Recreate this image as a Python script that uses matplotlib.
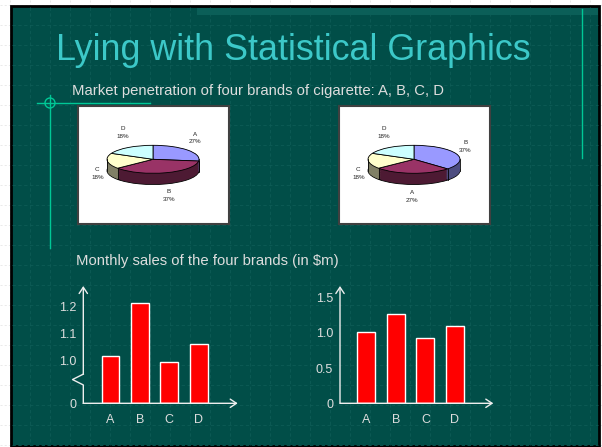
import numpy as np
import matplotlib.pyplot as plt
from matplotlib.patches import Rectangle, Circle

# ---- data ----
brands = ['A', 'B', 'C', 'D']
share = [27, 37, 18, 18]                      # market penetration (%)
pie_order_left = ['A', 'B', 'C', 'D']
pie_order_right = ['B', 'A', 'C', 'D']
sales_cut = [1.017, 1.214, 0.995, 1.062]      # left chart ($m), axis does not start at zero
sales_full = [1.01, 1.27, 0.92, 1.10]         # right chart ($m)
cut_base = 0.843                              # value sitting on the "0" of the left chart
cut_ticks = [cut_base, 1.0, 1.1, 1.2]
cut_ticklabels = ['0', '1.0', '1.1', '1.2']
full_ticks = [0, 0.5, 1.0, 1.5]
full_ticklabels = ['0', '0.5', '1.0', '1.5']

# slice colours go by position in the pie (Excel default palette)
top_col = ['#9999FF', '#993366', '#FFFFCC', '#CCFFFF']
side_col = ['#4D4D80', '#4D1A33', '#808066', '#668080']

BG = '#014E48'
TITLE = '#3CC8C8'
DECO = '#00C896'
TXT = '#DDDDDD'
SANS = ['Liberation Sans', 'DejaVu Sans']

W, H = 602, 447
fig = plt.figure(figsize=(6.02, 4.47), dpi=100)
fig.patch.set_facecolor('white')


def fbox(x0, y0, x1, y1):
    return [x0 / W, 1 - y1 / H, (x1 - x0) / W, (y1 - y0) / H]


# ---- slide background ----
bg = fig.add_axes([0, 0, 1, 1])
bg.set_xlim(0, W)
bg.set_ylim(H, 0)
bg.axis('off')
for gx in range(10, W, 20):
    bg.plot([gx, gx], [0, H], color='#e2e2e2', lw=0.5, ls=(0, (3, 3)))
for gy in range(5, H, 20):
    bg.plot([0, W], [gy, gy], color='#e2e2e2', lw=0.5, ls=(0, (3, 3)))
bg.add_patch(Rectangle((11, 6), 588, 440, facecolor=BG, edgecolor='black', lw=2, zorder=2))
for gx in range(30, 599, 20):
    bg.plot([gx, gx], [7, 445], color='#0E5C56', lw=0.6, ls=(0, (4, 3)), zorder=3)
for gy in range(25, 446, 20):
    bg.plot([12, 598], [gy, gy], color='#0E5C56', lw=0.6, ls=(0, (4, 3)), zorder=3)
bg.add_patch(Rectangle((197, 8), 401, 7, facecolor='#0B5F58', edgecolor='none',
                       hatch='xxxx', zorder=3))

bg.plot([37, 150], [103, 103], color=DECO, lw=1, zorder=4)
bg.add_patch(Circle((50, 103), 5, fill=False, ec=DECO, lw=1, zorder=4))
bg.plot([50, 50], [95, 248], color=DECO, lw=1, zorder=4)
bg.plot([582, 582], [9, 158], color=DECO, lw=1, zorder=4)

bg.text(293, 60, 'Lying with Statistical Graphics', ha='center', va='baseline',
        fontsize=25.8, color=TITLE, family=SANS, zorder=5)
bg.text(72, 95, 'Market penetration of four brands of cigarette: A, B, C, D',
        ha='left', va='baseline', fontsize=10.7, color=TXT, family=SANS, zorder=5)
bg.text(76, 265, r'Monthly sales of the four brands (in \$m)',
        ha='left', va='baseline', fontsize=10.7, color=TXT, family=SANS, zorder=5)


# ---- 3D-looking pies ----
def draw_pie(ax, order):
    vals = [share[brands.index(b)] for b in order]
    depth = 0.8
    steps = 16
    for k in range(steps + 1):
        dy = -depth + depth * k / steps
        ax.pie(vals, colors=side_col, startangle=90,
               counterclock=False, center=(0, dy), frame=True,
               wedgeprops=dict(lw=0.6 if k == 0 else 0, edgecolor='black'))
    ax.pie(vals, colors=top_col, startangle=90,
           counterclock=False, center=(0, 0), frame=True,
           wedgeprops=dict(lw=0.6, edgecolor='black'))
    cum = np.cumsum([0] + vals)
    ang = np.deg2rad(90 - 360 * cum / 100.0)
    for a in ang[:-1]:
        if np.sin(a) < 0:
            ax.plot([np.cos(a)] * 2, [np.sin(a), np.sin(a) - depth], color='black', lw=0.6)
    ax.plot([-1, -1], [0, -depth], color='black', lw=0.6)
    ax.plot([1, 1], [0, -depth], color='black', lw=0.6)
    for i, b in enumerate(order):
        m = (ang[i] + ang[i + 1]) / 2
        lx = 1.22 * np.cos(m)
        ly = 2.3 * np.sin(m) if np.sin(m) > 0 else 1.9 * np.sin(m) - 0.75
        ax.text(lx, ly, f'{b}\n{vals[i]}%', ha='center', va='center', fontsize=4.5,
                color='#222222', linespacing=1.7, family=SANS)
    ax.set_aspect('auto')
    ax.set_xlim(-75 / 46, 76 / 46)
    ax.set_ylim(-64.7 / 14, 53.3 / 14)
    ax.set_xticks([])
    ax.set_yticks([])
    ax.set_facecolor('white')
    for s in ax.spines.values():
        s.set_color('#404040')
        s.set_linewidth(1.5)


draw_pie(fig.add_axes(fbox(78, 106, 229, 224)), pie_order_left)
draw_pie(fig.add_axes(fbox(339, 106, 490, 224)), pie_order_right)


# ---- bar charts ----
ARROW = dict(arrowstyle='->,head_length=0.45,head_width=0.3', color='#EEEEEE',
             lw=1, shrinkA=0, shrinkB=0)


def bar_panel(box, vals, base, top, ticks, labels, xlo, xhi, broken):
    ax = fig.add_axes(box)
    ax.patch.set_alpha(0)
    x = np.arange(len(brands))
    ax.bar(x, np.array(vals) - base, bottom=base, width=0.61, color='#FF0000',
           edgecolor='white', lw=1, zorder=3)
    ax.set_xlim(xlo, xhi)
    ax.set_ylim(base, top)
    for s in ax.spines.values():
        s.set_visible(False)
    ax.set_xticks(x, brands)
    ax.set_yticks(ticks, labels)
    ax.tick_params(length=0, labelsize=9, labelcolor=TXT)
    ax.tick_params(axis='y', pad=5)
    ax.tick_params(axis='x', pad=8)
    for t in ax.get_xticklabels() + ax.get_yticklabels():
        t.set_family(SANS)
    ax.annotate('', xy=(1, 0), xytext=(0, 0), xycoords='axes fraction', arrowprops=ARROW)
    if broken:
        ya = (0.911 - base) / (top - base)
        yb = (0.951 - base) / (top - base)
        ax.plot([0, 0, -0.07, 0, 0], [0, ya, (ya + yb) / 2, yb, yb],
                transform=ax.transAxes, color='#EEEEEE', lw=1, clip_on=False)
        ax.annotate('', xy=(0, 1), xytext=(0, yb), xycoords='axes fraction', arrowprops=ARROW)
    else:
        ax.annotate('', xy=(0, 1), xytext=(0, 0), xycoords='axes fraction', arrowprops=ARROW)
    return ax


bar_panel(fbox(83.3, 286, 237.7, 403.3), sales_cut, cut_base, cut_base + 117.3 / 270,
          cut_ticks, cut_ticklabels, -0.925, 4.33, True)
bar_panel(fbox(340, 286, 493.3, 403.3), sales_full, 0, 117.3 / 70.5,
          full_ticks, full_ticklabels, -0.898, 4.30, False)

fig.savefig('out.png', dpi=100)
